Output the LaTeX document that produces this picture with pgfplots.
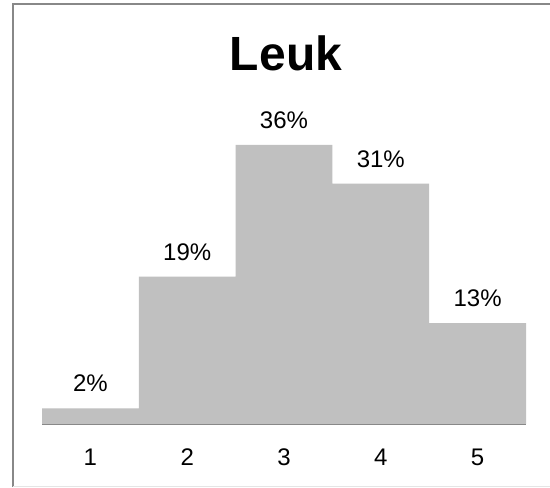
\documentclass[border=0pt]{standalone}
\usepackage{pgfplots}
\pgfplotsset{compat=1.18}
\usepackage{fontspec}
\setmainfont{Liberation Sans}
\definecolor{barc}{HTML}{C0C0C0}
\definecolor{framec}{HTML}{888888}
\begin{document}
\begin{tikzpicture}[x=1bp,y=1bp]
\path[use as bounding box] (0,0) rectangle (550,488);
\fill[white] (0,0) rectangle (550,488);
\draw[framec, line width=2bp] (13,1) -- (13,483.5) -- (550,483.5);
\draw[black!10, line width=1bp] (13,1) -- (550,1);
\begin{axis}[
  at={(42bp,64bp)}, anchor=south west,
  scale only axis, width=484bp, height=310bp,
  xmin=0.5, xmax=5.5, ymin=0, ymax=40,
  axis y line=none,
  axis x line*=bottom,
  x axis line style={framec, line width=1.5bp, -},
  xtick={1,2,3,4,5},
  major tick length=0pt,
  /pgf/number format/assume math mode=true,
  xticklabel style={font=\fontsize{24bp}{26bp}\selectfont, anchor=center, yshift=-33bp},
  ybar, bar width=96.8bp, bar shift=0pt,
  nodes near coords={\pgfmathprintnumber{\pgfplotspointmeta}\%},
  every node near coord/.append style={font=\fontsize{24bp}{26bp}\selectfont, anchor=center, yshift=25bp},
  clip=false,
]
\addplot[fill=barc, draw=none] coordinates {(1,2) (2,19) (3,36) (4,31) (5,13)};
\end{axis}
\node[font=\bfseries\fontsize{48bp}{52bp}\selectfont] at (286,435) {Leuk};
\end{tikzpicture}
\end{document}
